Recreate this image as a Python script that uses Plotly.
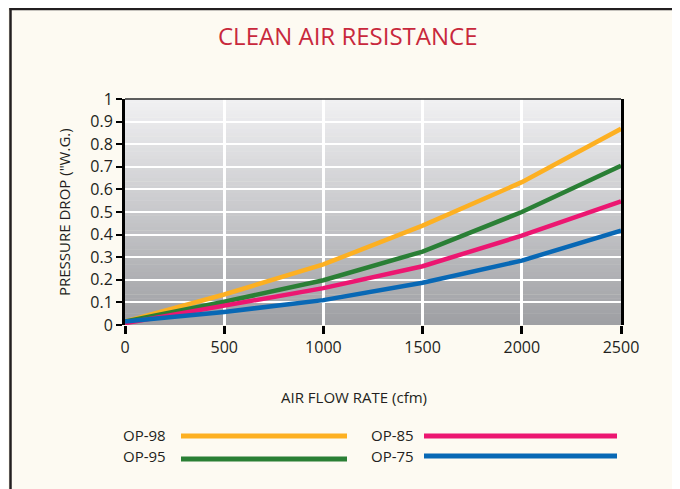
import plotly.graph_objects as go

flow = [0, 500, 1000, 1500, 2000, 2500]
op98 = [0.015, 0.135, 0.268, 0.440, 0.632, 0.868]
op95 = [0.015, 0.103, 0.198, 0.325, 0.500, 0.705]
op85 = [0.008, 0.083, 0.163, 0.260, 0.395, 0.547]
op75 = [0.015, 0.058, 0.110, 0.187, 0.285, 0.418]
series_names = ["OP-98", "OP-95", "OP-85", "OP-75"]
series_colors = ["#FDB022", "#2A7F35", "#EC1671", "#0868B5"]
y_ticks = [0, 0.1, 0.2, 0.3, 0.4, 0.5, 0.6, 0.7, 0.8, 0.9, 1]
y_tick_text = ["0", "0.1", "0.2", "0.3", "0.4", "0.5", "0.6", "0.7", "0.8", "0.9", "1"]

# page has an 8px body margin; work in page coordinates and convert
OFF = 8
W, H = 680 - OFF, 489 - OFF
L, R, T, B = 125, 621, 99, 325
pw, ph = R - L, B - T


def px(xp):
    return (xp - L) / pw


def py(yp):
    return (B - yp) / ph


FONT = "Open Sans"
TXT = "#231F20"

fig = go.Figure()
for name, vals, col in zip(series_names, [op98, op95, op85, op75], series_colors):
    fig.add_trace(go.Scatter(x=flow, y=vals, mode="lines", name=name,
                             line=dict(color=col, width=4.5), showlegend=False))

shapes = []
# gradient background strips
n = 60
top_c = (0xF1, 0xF1, 0xF3)
bot_c = (0x9E, 0x9F, 0xA3)
for i in range(n):
    t = (i + 0.5) / n
    c = tuple(int(round(bot_c[k] + (top_c[k] - bot_c[k]) * t)) for k in range(3))
    shapes.append(dict(type="rect", xref="paper", yref="paper",
                       x0=0, x1=1, y0=i / n, y1=(i + 1) / n + 0.002,
                       fillcolor="rgb(%d,%d,%d)" % c, line=dict(width=0), layer="below"))
# top border line of plot
shapes.append(dict(type="line", xref="paper", yref="paper", x0=0, x1=1, y0=1, y1=1,
                   line=dict(color="#2B2B2B", width=1.5)))
# outer frame
shapes.append(dict(type="line", xref="paper", yref="paper", x0=px(9.5), x1=px(700),
                   y0=py(9), y1=py(9), line=dict(color="#231F20", width=2.5)))
shapes.append(dict(type="line", xref="paper", yref="paper", x0=px(10.5), x1=px(10.5),
                   y0=py(8), y1=py(500), line=dict(color="#231F20", width=2.5)))

# legend
annotations = []
leg = [
    ("OP-98", series_colors[0], 168, 181, 347, 436, 435),
    ("OP-95", series_colors[1], 168, 181, 347, 459, 456),
    ("OP-85", series_colors[2], 416, 424, 617, 436, 435),
    ("OP-75", series_colors[3], 416, 424, 617, 456, 456),
]
for name, col, tx, x0, x1, yy, ty in leg:
    shapes.append(dict(type="line", xref="paper", yref="paper", x0=px(x0), x1=px(x1),
                       y0=py(yy), y1=py(yy), line=dict(color=col, width=5)))
    annotations.append(dict(text=name, xref="paper", yref="paper", x=px(tx), y=py(ty),
                            xanchor="right", yanchor="middle", showarrow=False,
                            font=dict(family=FONT, size=15, color=TXT)))

annotations.append(dict(text="CLEAN AIR RESISTANCE", xref="paper", yref="paper",
                        x=px(347), y=py(36), xanchor="center", yanchor="middle",
                        showarrow=False,
                        font=dict(family=FONT, size=24, color="#C8283C")))
annotations.append(dict(text="AIR FLOW RATE (cfm)", xref="paper", yref="paper",
                        x=px(354), y=py(397), xanchor="center", yanchor="middle",
                        showarrow=False, font=dict(family=FONT, size=15, color=TXT)))
annotations.append(dict(text="PRESSURE DROP (\"W.G.)", xref="paper", yref="paper",
                        x=px(64), y=py(212), xanchor="center", yanchor="middle",
                        textangle=-90, showarrow=False,
                        font=dict(family=FONT, size=15, color=TXT)))

fig.update_layout(
    width=W, height=H,
    margin=dict(l=L - OFF, r=680 - R, t=T - OFF, b=489 - B, pad=0),
    paper_bgcolor="#FDFAF2",
    plot_bgcolor="rgba(0,0,0,0)",
    shapes=shapes,
    annotations=annotations,
    showlegend=False,
    xaxis=dict(range=[0, 2500], tickvals=flow, showgrid=True, gridcolor="white", gridwidth=3,
               zeroline=False, showline=False, ticks="outside", ticklen=8, tickwidth=3,
               tickcolor="black", tickfont=dict(family=FONT, size=16, color=TXT),
               fixedrange=True),
    yaxis=dict(range=[0, 1], tickvals=y_ticks, ticktext=y_tick_text, showgrid=True,
               gridcolor="white", gridwidth=2, zeroline=False, showline=True,
               linecolor="black", linewidth=3, mirror=True, ticks="outside",
               ticklen=6, tickwidth=2, tickcolor="black",
               tickfont=dict(family=FONT, size=16, color=TXT), fixedrange=True),
)

fig.write_html("out.html")
